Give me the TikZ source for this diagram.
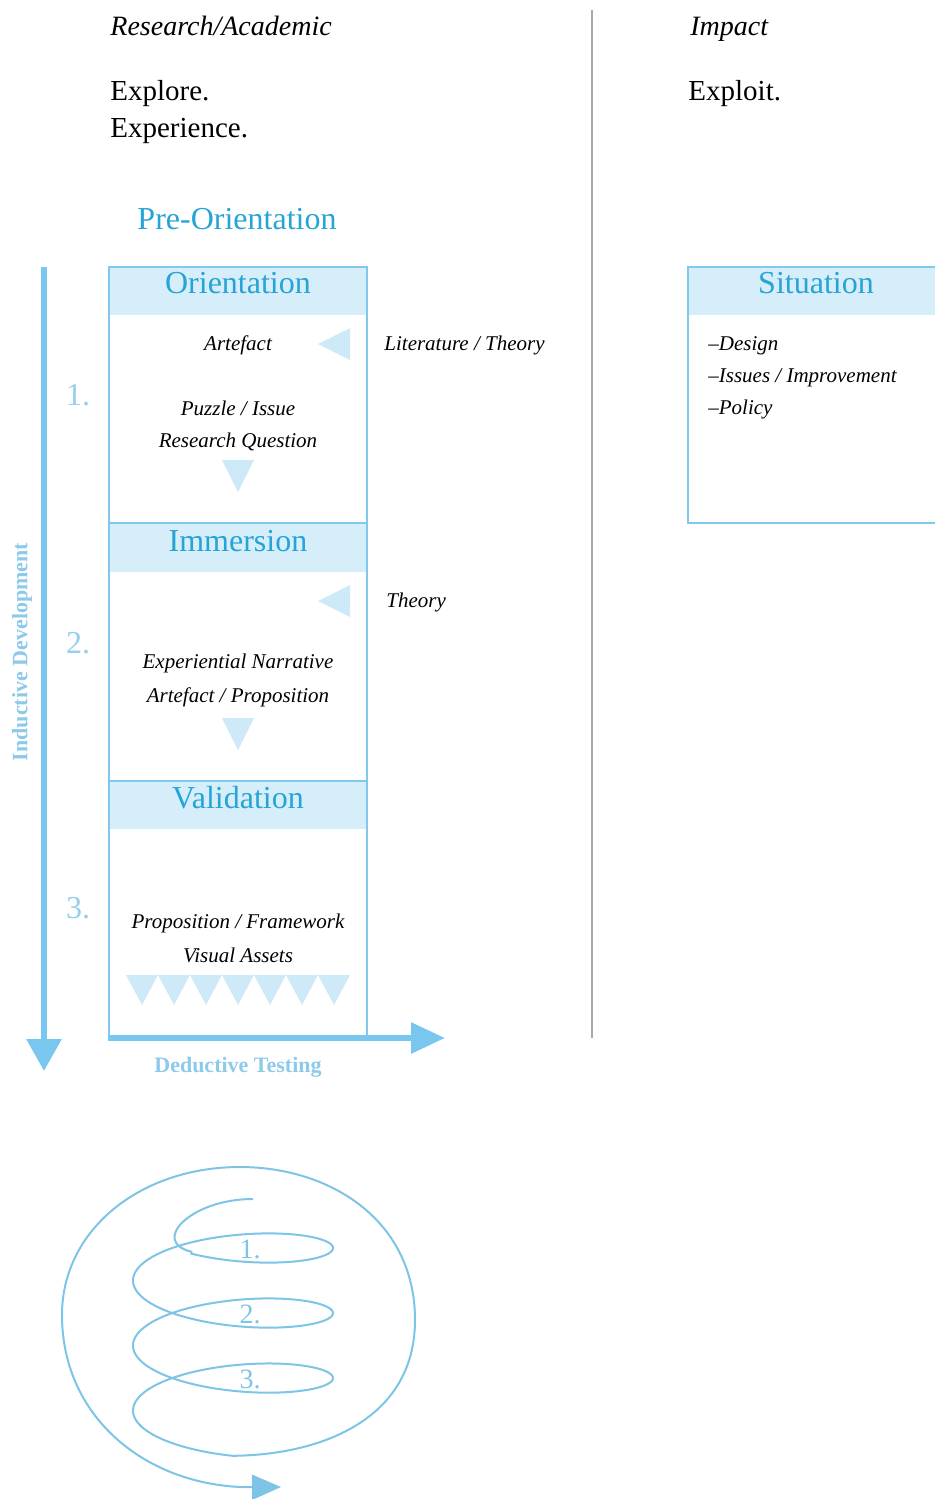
\documentclass[tikz,border=0pt]{standalone}
\usepackage{fontspec}
\setmainfont{Liberation Serif}
\usetikzlibrary{arrows.meta}
\definecolor{headblue}{RGB}{38,164,214}
\definecolor{boxline}{RGB}{130,200,236}
\definecolor{bandfill}{RGB}{214,237,250}
\definecolor{trifill}{RGB}{206,233,248}
\definecolor{arrowblue}{RGB}{121,198,238}
\definecolor{numblue}{RGB}{150,206,236}
\definecolor{labblue}{RGB}{141,202,234}
\definecolor{spiralblue}{RGB}{125,196,230}
\definecolor{sepgray}{RGB}{170,170,170}
\tikzset{
  plaintxt/.style={font=\fontsize{14.5}{17}\selectfont, anchor=base west, inner sep=0pt},
  ittitle/.style={font=\fontsize{14}{17}\selectfont\itshape, anchor=base west, inner sep=0pt},
  hdr/.style={font=\fontsize{16}{19}\selectfont, text=headblue, anchor=base, inner sep=0pt},
  itxt/.style={font=\fontsize{10.5}{12}\selectfont\itshape, anchor=base, inner sep=0pt},
  itxtl/.style={itxt, anchor=base west},
  num/.style={font=\fontsize{16}{19}\selectfont, text=numblue, anchor=base, inner sep=0pt},
  snum/.style={font=\fontsize{14}{17}\selectfont, text=spiralblue, anchor=base, inner sep=0pt},
  axislab/.style={font=\fontsize{11}{13}\selectfont\bfseries, text=labblue, inner sep=0pt},
  band/.style={fill=bandfill, draw=none},
  tri/.style={fill=trifill, draw=none},
  boxborder/.style={draw=boxline, line width=1pt},
  thickarrow/.style={draw=arrowblue, line width=3pt},
  spiral/.style={draw=spiralblue, line width=1pt},
}
\begin{document}
\begin{tikzpicture}[x=0.5pt,y=-0.5pt]
\useasboundingbox (0,0) rectangle (934,1499);

% column titles
\node[ittitle] (ra) at (110,35) {Research/Academic};
\node[plaintxt] (explore) at (110,100) {Explore.};
\node[plaintxt] (experience) at (110,137) {Experience.};
\node[ittitle] (impact) at (690,35) {Impact};
\node[plaintxt] (exploit) at (688,100) {Exploit.};
\coordinate (septop) at (592,10);
\coordinate (sepbot) at (592,1038);
\draw[draw=sepgray, line width=0.8pt] (septop) -- (sepbot);

\node[hdr] (preor) at (237,229) {Pre-Orientation};

% main box bands
\fill[band] (109,267) rectangle (367,315);
\fill[band] (109,523) rectangle (367,572);
\fill[band] (109,781) rectangle (367,829);
\draw[boxborder] (109,267) rectangle (367,1038);
\draw[boxborder] (109,523) -- (367,523);
\draw[boxborder] (109,781) -- (367,781);

\node[hdr] (orient) at (238,293) {Orientation};
\node[hdr] (immers) at (238,551) {Immersion};
\node[hdr] (valid) at (238,808) {Validation};

% triangles
\fill[tri] (318,344) -- (350,328) -- (350,360) -- cycle;
\fill[tri] (222,460) -- (254,460) -- (238,492) -- cycle;
\fill[tri] (318,601) -- (350,585) -- (350,617) -- cycle;
\fill[tri] (222,718) -- (254,718) -- (238,750) -- cycle;
\foreach \i in {0,...,6}{
  \fill[tri] ({126+32*\i},975) -- ({158+32*\i},975) -- ({142+32*\i},1005) -- cycle;
}

% texts inside
\node[itxt] (artefact) at (238,350) {Artefact};
\node[itxtl] (lit) at (384,350) {Literature / Theory};
\node[itxt] (puzzle) at (238,415) {Puzzle / Issue};
\node[itxt] (rq) at (238,447) {Research Question};
\node[itxtl] (theory) at (386,607) {Theory};
\node[itxt] (expn) at (238,668) {Experiential Narrative};
\node[itxt] (artprop) at (238,702) {Artefact / Proposition};
\node[itxt] (propfw) at (238,928) {Proposition / Framework};
\node[itxt] (visual) at (238,962) {Visual Assets};

\node[num] (n1) at (78,405) {1.};
\node[num] (n2) at (78,653) {2.};
\node[num] (n3) at (78,918) {3.};

% axes
\coordinate (vtop) at (44,267);
\coordinate (vbot) at (44,1071);
\draw[thickarrow, -{Triangle[length=16pt,width=17pt]}] (vtop) -- (vbot);
\coordinate (hleft) at (108,1038);
\coordinate (hright) at (445,1038);
\draw[thickarrow, -{Triangle[length=17pt,width=15pt]}] (hleft) -- (hright);
\node[axislab, rotate=90] (indev) at (22,652) {Inductive Development};
\node[axislab] (dedtest) at (238,1067) {Deductive Testing};

% situation box
\fill[band] (688,267) rectangle (946,315);
\draw[boxborder] (688,267) rectangle (946,523);
\node[hdr] (situation) at (816,293) {Situation};
\node[itxtl] (design) at (708,350) {--Design};
\node[itxtl] (issues) at (708,382) {--Issues / Improvement};
\node[itxtl] (policy) at (708,414) {--Policy};

% spiral
\draw[spiral, -{Triangle[length=14.5pt,width=12.5pt]}]
  (253,1199) .. controls (190,1199) and (150,1242) .. (191.4,1251.7)
  -- plot[domain=-2:17.2788, samples=400, variable=\t]
     ({233+100*cos(\t r)},{1248+10.35*\t-29*sin(\t r)})
  .. controls (320,1455) and (415,1420) .. (415,1320)
  .. controls (415,1220) and (330,1167) .. (240,1167)
  .. controls (140,1167) and (62,1230) .. (62,1315)
  .. controls (62,1420) and (150,1488) .. (281,1487);
\node[snum] (s1) at (250,1258) {1.};
\node[snum] (s2) at (250,1323) {2.};
\node[snum] (s3) at (250,1388) {3.};
\end{tikzpicture}
\end{document}
